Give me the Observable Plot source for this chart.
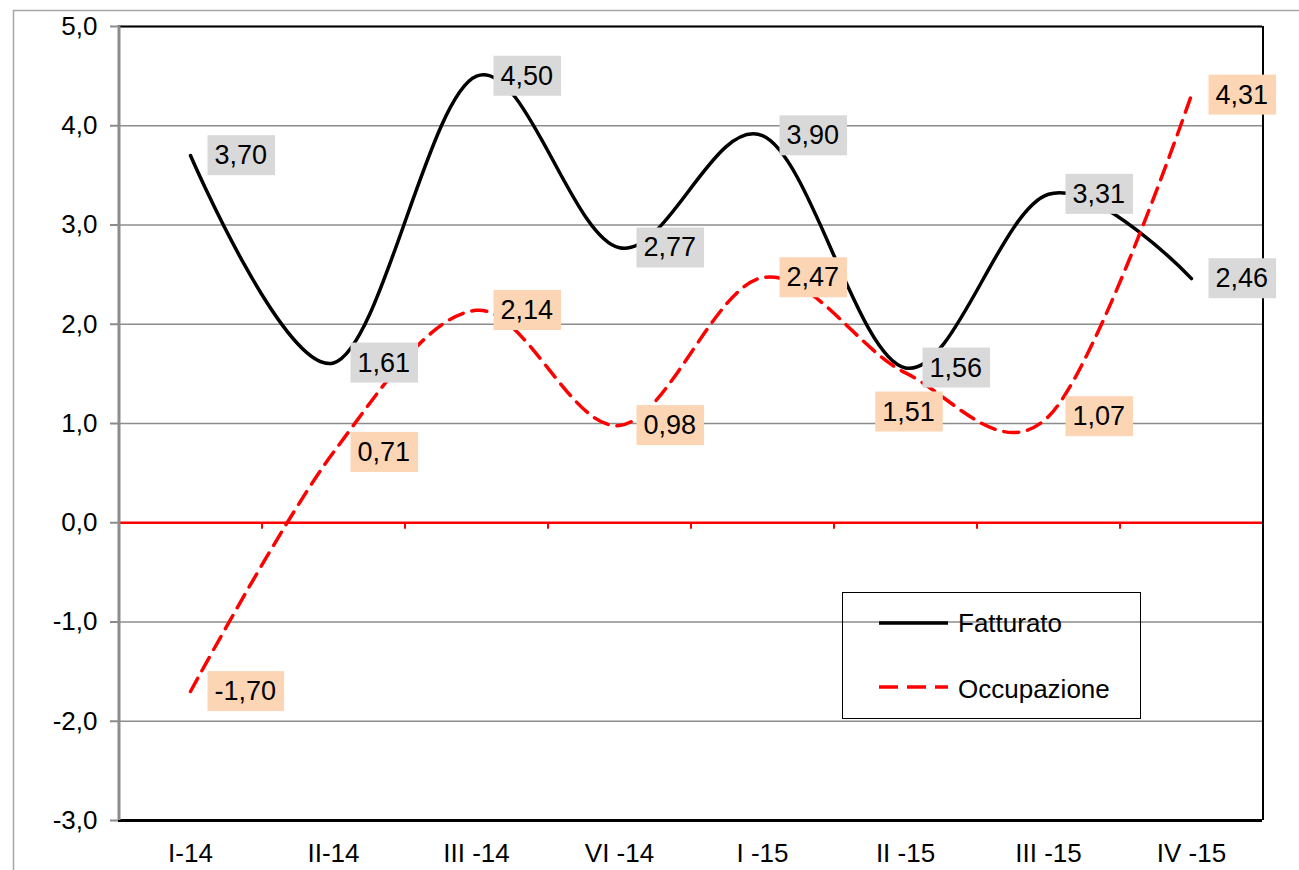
<!DOCTYPE html>
<html>
<head>
<meta charset="utf-8">
<script src="https://cdn.jsdelivr.net/npm/d3@7"></script>
<script src="https://cdn.jsdelivr.net/npm/@observablehq/plot@0.6"></script>
<style>
  html, body { margin: 0; padding: 0; background: #fff; }
  #wrap { position: relative; width: 1299px; height: 870px; overflow: hidden; font-family: "Liberation Sans", Arial, sans-serif; }
  #legend { position: absolute; left: 842px; top: 592px; width: 299px; height: 127px; border: 1.5px solid #000; box-sizing: border-box; }
</style>
</head>
<body>
<div id="wrap"></div>
<script>
const categories = ["I-14", "II-14", "III -14", "VI -14", "I -15", "II -15", "III -15", "IV -15"];
const fatturato = [3.70, 1.61, 4.50, 2.77, 3.90, 1.56, 3.31, 2.46];
const occupazione = [-1.70, 0.71, 2.14, 0.98, 2.47, 1.51, 1.07, 4.31];
const yTicks = [-3, -2, -1, 0, 1, 2, 3, 4, 5];
const seriesNames = ["Fatturato", "Occupazione"];

const fatData = categories.map((c, i) => ({cat: c, v: fatturato[i]}));
const occData = categories.map((c, i) => ({cat: c, v: occupazione[i]}));
const fmt2 = v => v.toFixed(2).replace(".", ",");
const fmt1 = v => v.toFixed(1).replace(".", ",");

const W = 1299, H = 870, mL = 118, mR = 37, mT = 26, mB = 50;
const half = (W - mL - mR) / categories.length / 2;
const below = c => c === "II -15";

const chart = Plot.plot({
  width: W, height: H,
  marginLeft: mL, marginRight: mR, marginTop: mT, marginBottom: mB,
  style: {fontFamily: "'Liberation Sans', Arial, sans-serif", fontSize: "26px", background: "white", overflow: "visible"},
  x: {type: "point", domain: categories, padding: 0.5, axis: null},
  y: {domain: [-3, 5], axis: null},
  marks: [
    Plot.frame({stroke: "#a6a6a6", strokeWidth: 1.5, insetLeft: -105, insetTop: -16, insetRight: -80, insetBottom: -80}),
    Plot.gridY(yTicks, {stroke: "#8c8c8c", strokeOpacity: 1, strokeWidth: 1.5}),
    Plot.ruleY([0], {stroke: "#ff0000", strokeWidth: 2.5}),
    Plot.ruleX(categories.slice(1), {dx: -half, y1: 0, y2: -0.065, stroke: "#ff0000", strokeWidth: 2}),
    Plot.ruleY([5], {stroke: "#000", strokeWidth: 2}),
    Plot.ruleY([-3], {stroke: "#000", strokeWidth: 3}),
    Plot.ruleX([categories[categories.length - 1]], {dx: half, stroke: "#000", strokeWidth: 2}),
    Plot.ruleX([categories[0]], {dx: -half, stroke: "#8c8c8c", strokeWidth: 3}),
    Plot.axisY(yTicks, {tickSize: 8, tickPadding: 13, tickFormat: fmt1, fontSize: 26, stroke: "#8c8c8c", strokeWidth: 2, fill: "#000", label: null}),
    Plot.axisX({tickSize: 0, tickPadding: 23, fontSize: 26, fill: "#000", label: null}),
    Plot.line(fatData, {x: "cat", y: "v", curve: "cardinal", stroke: "#000", strokeWidth: 3.5}),
    Plot.line(occData, {x: "cat", y: "v", curve: "cardinal", stroke: "#ff0000", strokeWidth: 3.5, strokeDasharray: "15,9"}),
    Plot.text(fatData, {x: "cat", y: "v", text: d => fmt2(d.v), textAnchor: "start", dx: 24, fontSize: 27, fill: "#000"}),
    Plot.text(occData.filter(d => !below(d.cat)), {x: "cat", y: "v", text: d => fmt2(d.v), textAnchor: "start", dx: 24, fontSize: 27, fill: "#000"}),
    Plot.text(occData.filter(d => below(d.cat)), {x: "cat", y: "v", text: d => fmt2(d.v), textAnchor: "middle", dx: 3, dy: 39, fontSize: 27, fill: "#000"})
  ]
});

const wrap = document.getElementById("wrap");
wrap.appendChild(chart);

// label background boxes
const boxColors = ["#d9d9d9", "#fcd5b5", "#fcd5b5"];
const textGroups = Array.from(chart.querySelectorAll('g[aria-label="text"]'));
textGroups.forEach((g, gi) => {
  Array.from(g.querySelectorAll("text")).forEach(t => {
    const b = t.getBBox();
    const r = document.createElementNS("http://www.w3.org/2000/svg", "rect");
    r.setAttribute("x", b.x - 7);
    r.setAttribute("y", b.y - 5);
    r.setAttribute("width", b.width + 15);
    r.setAttribute("height", b.height + 10);
    r.setAttribute("fill", boxColors[gi]);
    const tr = t.getAttribute("transform");
    if (tr) r.setAttribute("transform", tr);
    g.insertBefore(r, t);
  });
});

// legend
const legend = document.createElement("div");
legend.id = "legend";
legend.innerHTML = `<svg width="299" height="127" style="position:absolute;left:-1.5px;top:-1.5px;overflow:visible">
  <line x1="37" x2="106" y1="31" y2="31" stroke="#000" stroke-width="3.5"/>
  <text x="116" y="31" dy="0.35em" font-size="26" font-family="Liberation Sans, Arial, sans-serif">${seriesNames[0]}</text>
  <line x1="37" x2="106" y1="95" y2="95" stroke="#ff0000" stroke-width="3.5" stroke-dasharray="19,9"/>
  <text x="116" y="97" dy="0.35em" font-size="26" font-family="Liberation Sans, Arial, sans-serif">${seriesNames[1]}</text>
</svg>`;
wrap.appendChild(legend);
</script>
</body>
</html>
